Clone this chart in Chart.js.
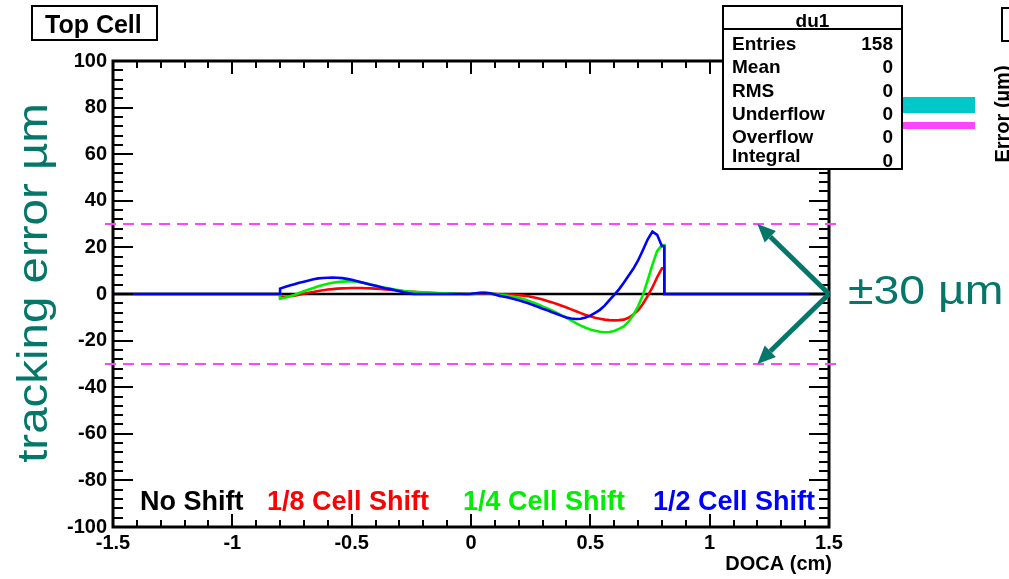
<!DOCTYPE html>
<html>
<head>
<meta charset="utf-8">
<title>Top Cell – tracking error vs DOCA</title>
<script src="https://cdn.jsdelivr.net/npm/chart.js@4.4.1/dist/chart.umd.min.js"></script>
<style>
  html, body { margin: 0; padding: 0; background: #fff; overflow: hidden; }
  canvas { display: block; }
</style>
</head>
<body>
<canvas id="c" width="1009" height="579"></canvas>
<script>
// DOCA bin positions (cm) where the shifted-cell curves are sampled
const docaCm = [
  -0.80, -0.78, -0.76, -0.74, -0.72, -0.70, -0.68, -0.66, -0.64, -0.62,
  -0.60, -0.58, -0.56, -0.54, -0.52, -0.50, -0.48, -0.46, -0.44, -0.42,
  -0.40, -0.38, -0.36, -0.34, -0.32, -0.30, -0.28, -0.26, -0.24, -0.22,
  -0.20, -0.18, -0.16, -0.14, -0.12, -0.10, -0.08, -0.06, -0.04, -0.02,
   0.00,  0.02,  0.04,  0.06,  0.08,  0.10,  0.12,  0.14,  0.16,  0.18,
   0.20,  0.22,  0.24,  0.26,  0.28,  0.30,  0.32,  0.34,  0.36,  0.38,
   0.40,  0.42,  0.44,  0.46,  0.48,  0.50,  0.52,  0.54,  0.56,  0.58,
   0.60,  0.62,  0.64,  0.66,  0.68,  0.70,  0.72,  0.74,  0.76,  0.78,
   0.80
];

// tracking error (um) for each cell shift
const noShiftUm = [
  0, 0, 0, 0, 0, 0, 0, 0, 0, 0,
  0, 0, 0, 0, 0, 0, 0, 0, 0, 0,
  0, 0, 0, 0, 0, 0, 0, 0, 0, 0,
  0, 0, 0, 0, 0, 0, 0, 0, 0, 0,
  0, 0, 0, 0, 0, 0, 0, 0, 0, 0,
  0, 0, 0, 0, 0, 0, 0, 0, 0, 0,
  0, 0, 0, 0, 0, 0, 0, 0, 0, 0,
  0, 0, 0, 0, 0, 0, 0, 0, 0, 0,
  0
];
const eighthCellUm = [
  -1.2, -1.2, -1.0, -0.7, -0.3, 0.1, 0.5, 0.9, 1.3, 1.6,
  1.9, 2.1, 2.3, 2.4, 2.5, 2.6, 2.6, 2.6, 2.5, 2.4,
  2.3, 2.2, 2.0, 1.8, 1.6, 1.4, 1.2, 1.0, 0.9, 0.7,
  0.6, 0.5, 0.4, 0.3, 0.3, 0.2, 0.2, 0.1, 0.1, 0.0,
  0.0, 0.1, 0.2, 0.2, 0.1, 0.0, -0.1, -0.1, -0.2, -0.3,
  -0.5, -0.7, -1.0, -1.4, -1.8, -2.4, -3.0, -3.6, -4.3, -5.0,
  -5.8, -6.6, -7.4, -8.2, -9.0, -9.6, -10.2, -10.6, -11.0, -11.2,
  -11.3, -11.2, -11.0, -10.2, -8.8, -7.0, -4.3, -0.9, 2.8, 7.2,
  11.0
];
const quarterCellUm = [
  -2.0, -1.6, -1.0, -0.4, 0.4, 1.2, 1.9, 2.6, 3.3, 3.9,
  4.4, 4.8, 5.1, 5.3, 5.4, 5.4, 5.3, 5.0, 4.6, 4.1,
  3.6, 3.1, 2.7, 2.3, 1.9, 1.6, 1.3, 1.1, 0.9, 0.8,
  0.7, 0.6, 0.5, 0.4, 0.3, 0.3, 0.2, 0.1, 0.1, 0.0,
  0.1, 0.3, 0.5, 0.5, 0.3, 0.0, -0.3, -0.5, -0.9, -1.2,
  -1.6, -2.1, -2.9, -3.6, -4.4, -5.3, -6.2, -7.1, -8.1, -9.2,
  -10.2, -11.3, -12.5, -13.6, -14.5, -15.2, -15.8, -16.2, -16.4, -16.3,
  -15.9, -15.0, -13.9, -11.9, -9.0, -5.3, -0.6, 5.8, 12.5, 18.5,
  21.0
];
const halfCellUm = [
  2.3, 3.0, 3.6, 4.2, 4.8, 5.3, 5.8, 6.3, 6.7, 6.9,
  7.0, 7.1, 7.0, 6.8, 6.5, 6.1, 5.6, 5.0, 4.5, 4.0,
  3.5, 3.0, 2.5, 2.1, 1.7, 1.2, 0.7, 0.3, 0.0, 0.0,
  0.0, 0.0, 0.0, 0.0, 0.0, 0.0, 0.0, 0.0, 0.0, 0.0,
  0.1, 0.3, 0.5, 0.5, 0.3, -0.2, -0.8, -1.2, -1.6, -2.1,
  -2.7, -3.3, -4.0, -4.7, -5.5, -6.3, -7.0, -7.8, -8.6, -9.4,
  -10.1, -10.5, -10.7, -10.6, -10.1, -9.3, -8.1, -6.8, -5.0, -2.6,
  -0.4, 2.0, 4.8, 7.8, 10.8, 14.4, 18.8, 23.4, 26.8, 25.4,
  20.5
];

// axis ranges and labelled ticks
const docaRange = [-1.5, 1.5];
const errorRange = [-100, 100];
const docaTickLabels = [-1.5, -1, -0.5, 0, 0.5, 1, 1.5];
const errorTickLabels = [-100, -80, -60, -40, -20, 0, 20, 40, 60, 80, 100];
const toleranceUm = [30, -30];
const lastBinEdgeCm = 0.81;

const seriesNames = ['No Shift', '1/8 Cell Shift', '1/4 Cell Shift', '1/2 Cell Shift'];
const seriesColors = ['#000000', '#ff0000', '#00ee00', '#0000ff'];
const seriesValues = [noShiftUm, eighthCellUm, quarterCellUm, halfCellUm];

const statsLabels = ['Entries', 'Mean', 'RMS', 'Underflow', 'Overflow', 'Integral'];
const statsValues = ['158', '0', '0', '0', '0', '0'];

const TEAL = '#04766a';
const FONT = "'Liberation Sans', Arial, Helvetica, sans-serif";

// histogram outline: empty outside the filled range, vertical edges at both ends
function histogramPoints(values) {
  const pts = [{ x: docaRange[0], y: 0 }, { x: docaCm[0], y: 0 }];
  docaCm.forEach((x, i) => pts.push({ x, y: values[i] }));
  pts.push({ x: lastBinEdgeCm, y: values[values.length - 1] });
  pts.push({ x: lastBinEdgeCm, y: 0 });
  pts.push({ x: docaRange[1], y: 0 });
  return pts;
}

const datasets = seriesValues.map((vals, i) => ({
  label: seriesNames[i],
  data: histogramPoints(vals),
  borderColor: seriesColors[i],
  borderWidth: 2.6,
  pointRadius: 0,
  tension: 0,
  fill: false,
  order: seriesValues.length - i   // 1/2 Cell Shift ends up on top
}));

// ROOT-style frame with inward ticks on all four sides
const framePlugin = {
  id: 'frame',
  afterDatasetsDraw(chart) {
    const { ctx, chartArea: a, scales: { x, y } } = chart;
    ctx.save();
    ctx.strokeStyle = '#000';
    ctx.lineWidth = 2;
    ctx.beginPath();
    const xStep = 0.1;
    const nx = Math.round((docaRange[1] - docaRange[0]) / xStep);
    for (let i = 0; i <= nx; i++) {
      const px = Math.round(x.getPixelForValue(docaRange[0] + i * xStep));
      const major = i % 5 === 0;
      ctx.moveTo(px, a.bottom); ctx.lineTo(px, a.bottom - (major ? 13 : 7));
      ctx.moveTo(px, a.top); ctx.lineTo(px, a.top + (major ? 13 : 7));
    }
    const yStep = 4;
    const ny = Math.round((errorRange[1] - errorRange[0]) / yStep);
    for (let i = 0; i <= ny; i++) {
      const py = Math.round(y.getPixelForValue(errorRange[0] + i * yStep));
      const major = i % 5 === 0;
      ctx.moveTo(a.left, py); ctx.lineTo(a.left + (major ? 20 : 10), py);
      ctx.moveTo(a.right, py); ctx.lineTo(a.right - (major ? 20 : 10), py);
    }
    ctx.stroke();
    ctx.lineWidth = 3;
    ctx.strokeRect(a.left, a.top, a.right - a.left, a.bottom - a.top);
    ctx.restore();
  }
};

function arrow(ctx, x0, y0, x1, y1) {
  const ang = Math.atan2(y1 - y0, x1 - x0);
  const headLen = 18, headHalf = 8;
  const bx = x1 - headLen * Math.cos(ang), by = y1 - headLen * Math.sin(ang);
  ctx.beginPath();
  ctx.moveTo(x0, y0); ctx.lineTo(bx, by);
  ctx.stroke();
  ctx.beginPath();
  ctx.moveTo(x1, y1);
  ctx.lineTo(bx + headHalf * Math.sin(ang), by - headHalf * Math.cos(ang));
  ctx.lineTo(bx - headHalf * Math.sin(ang), by + headHalf * Math.cos(ang));
  ctx.closePath();
  ctx.fill();
}

// annotations: tolerance band, arrows, titles, legend text, stats box
const annotationPlugin = {
  id: 'annotations',
  afterDraw(chart) {
    const { ctx, chartArea: a, scales: { x, y } } = chart;
    ctx.save();

    // ±30 um dashed lines
    ctx.strokeStyle = '#ff44ff';
    ctx.lineWidth = 2.2;
    ctx.setLineDash([11, 7]);
    toleranceUm.forEach(v => {
      const py = Math.round(y.getPixelForValue(v));
      ctx.beginPath();
      ctx.moveTo(a.left - 8, py);
      ctx.lineTo(a.right + 14, py);
      ctx.stroke();
    });
    ctx.setLineDash([]);

    // arrows from the right edge to the tolerance lines
    ctx.strokeStyle = TEAL;
    ctx.fillStyle = TEAL;
    ctx.lineWidth = 5;
    const ox = x.getPixelForValue(docaRange[1]), oy = y.getPixelForValue(0);
    toleranceUm.forEach(v => {
      arrow(ctx, ox, oy, x.getPixelForValue(1.2), y.getPixelForValue(v));
    });

    // ±30 µm label
    ctx.font = `40px ${FONT}`;
    ctx.textBaseline = 'alphabetic';
    ctx.textAlign = 'left';
    ctx.save();
    ctx.translate(848, 304);
    ctx.scale(1.16, 1);
    ctx.fillText('±30 µm', 0, 0);
    ctx.restore();

    // vertical axis title
    ctx.save();
    ctx.translate(47, 283);
    ctx.rotate(-Math.PI / 2);
    ctx.scale(1.13, 1);
    ctx.font = `42px ${FONT}`;
    ctx.textAlign = 'center';
    ctx.fillText('tracking error µm', 0, 0);
    ctx.restore();

    // horizontal axis title
    ctx.fillStyle = '#000';
    ctx.font = `bold 20px ${FONT}`;
    ctx.textAlign = 'right';
    ctx.fillText('DOCA (cm)', 832, 570);

    // series legend text
    const legendX = [140, 267, 463, 653];
    ctx.font = `bold 27px ${FONT}`;
    ctx.textAlign = 'left';
    seriesNames.forEach((name, i) => {
      ctx.fillStyle = seriesColors[i];
      ctx.fillText(name, legendX[i], 510);
    });

    // pad title box
    ctx.fillStyle = '#fff';
    ctx.fillRect(32, 6, 125, 34);
    ctx.strokeStyle = '#000';
    ctx.lineWidth = 2;
    ctx.strokeRect(32, 6, 125, 34);
    ctx.fillStyle = '#000';
    ctx.font = `bold 25px ${FONT}`;
    ctx.fillText('Top Cell', 45, 33);

    // neighbouring pad pieces at the right edge
    ctx.fillStyle = '#00c8c8';
    ctx.fillRect(902, 97, 73, 16);
    ctx.fillStyle = '#ff44ff';
    ctx.fillRect(902, 122, 73, 7);
    ctx.strokeStyle = '#000';
    ctx.lineWidth = 2;
    ctx.strokeRect(1002, 8, 40, 33);
    ctx.save();
    ctx.translate(1009, 114);
    ctx.rotate(-Math.PI / 2);
    ctx.fillStyle = '#000';
    ctx.font = `bold 20px ${FONT}`;
    ctx.textAlign = 'center';
    ctx.fillText('Error (µm)', 0, 0);
    ctx.restore();

    // statistics box
    const bx = 723, by = 6, bw = 179, bh = 163;
    ctx.fillStyle = '#fff';
    ctx.fillRect(bx, by, bw, bh);
    ctx.strokeStyle = '#000';
    ctx.lineWidth = 2;
    ctx.strokeRect(bx, by, bw, bh);
    ctx.beginPath();
    ctx.moveTo(bx, 29); ctx.lineTo(bx + bw, 29);
    ctx.stroke();
    ctx.fillStyle = '#000';
    ctx.font = `bold 19px ${FONT}`;
    ctx.textAlign = 'center';
    ctx.fillText('du1', bx + bw / 2, 27);
    const rowBase = [50, 73, 97, 120, 143, 162];
    statsLabels.forEach((lab, i) => {
      ctx.textAlign = 'left';
      ctx.fillText(lab, 732, rowBase[i]);
      ctx.textAlign = 'right';
      ctx.fillText(statsValues[i], 893, i === statsLabels.length - 1 ? 167 : rowBase[i]);
    });

    ctx.restore();
  }
};

const tickFont = { family: FONT, size: 20, weight: 'bold' };

new Chart(document.getElementById('c'), {
  type: 'line',
  data: { datasets },
  options: {
    responsive: false,
    animation: false,
    layout: { padding: { top: 61, right: 180, bottom: 0, left: 0 } },
    plugins: { legend: { display: false }, tooltip: { enabled: false } },
    scales: {
      x: {
        type: 'linear',
        min: docaRange[0],
        max: docaRange[1],
        grid: { display: false, drawTicks: false },
        border: { display: false },
        afterBuildTicks(s) { s.ticks = docaTickLabels.map(v => ({ value: v })); },
        ticks: {
          color: '#000', font: tickFont, padding: 4,
          autoSkip: false, maxRotation: 0, minRotation: 0,
          callback: v => String(Math.round(v * 10) / 10)
        },
        afterFit(s) { s.height = 52; }
      },
      y: {
        type: 'linear',
        min: errorRange[0],
        max: errorRange[1],
        grid: { display: false, drawTicks: false },
        border: { display: false },
        afterBuildTicks(s) { s.ticks = errorTickLabels.map(v => ({ value: v })); },
        ticks: {
          color: '#000', font: tickFont, padding: 6,
          autoSkip: false,
          callback: v => String(v)
        },
        afterFit(s) { s.width = 113; }
      }
    }
  },
  plugins: [framePlugin, annotationPlugin]
});
</script>
</body>
</html>
